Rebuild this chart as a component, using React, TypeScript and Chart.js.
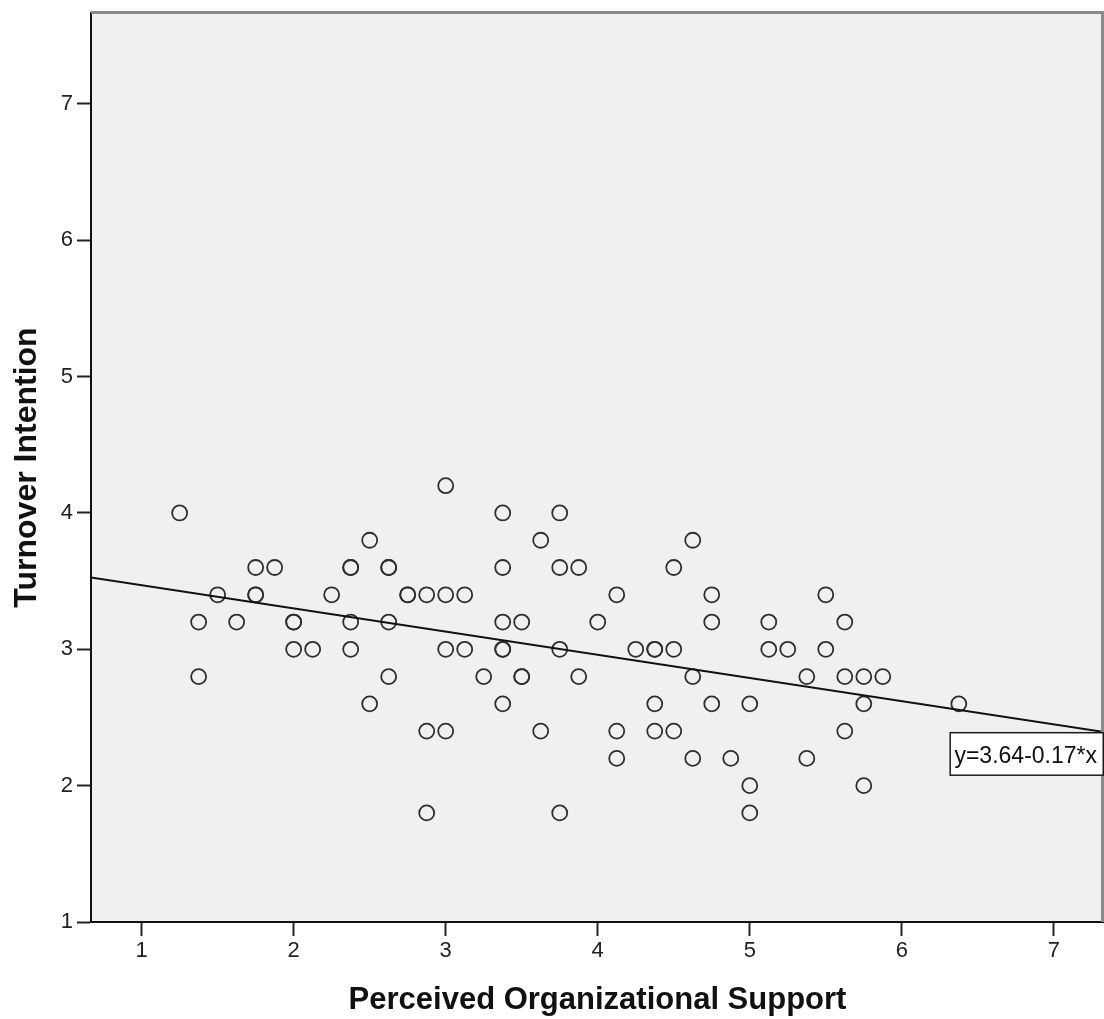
import React, { useEffect, useRef } from "react";
import { Chart, registerables } from "chart.js";

Chart.register(...registerables);

// Perceived Organizational Support (x) and Turnover Intention (y) per respondent
const posValues = [
  1.25, 1.375, 1.375, 1.5, 1.625, 1.75, 1.75, 1.75, 1.875, 2, 2, 2, 2.125, 2.25,
  2.375, 2.375, 2.375, 2.375, 2.5, 2.5, 2.625, 2.625, 2.625, 2.625, 2.75, 2.75,
  2.875, 2.875, 2.875, 3, 3, 3, 3, 3.125, 3.125, 3.25, 3.375, 3.375, 3.375, 3.375,
  3.375, 3.375, 3.5, 3.5, 3.5, 3.625, 3.625, 3.75, 3.75, 3.75, 3.75, 3.875, 3.875,
  4, 4.125, 4.125, 4.125, 4.25, 4.375, 4.375, 4.375, 4.375, 4.5, 4.5, 4.5, 4.625,
  4.625, 4.625, 4.75, 4.75, 4.75, 4.875, 5, 5, 5, 5.125, 5.125, 5.25, 5.375, 5.375,
  5.5, 5.5, 5.625, 5.625, 5.625, 5.75, 5.75, 5.75, 5.875, 6.375,
];
const tiValues = [
  4.0, 3.2, 2.8, 3.4, 3.2, 3.6, 3.4, 3.4, 3.6, 3.2, 3.2, 3.0, 3.0, 3.4,
  3.6, 3.6, 3.2, 3.0, 3.8, 2.6, 3.6, 3.6, 3.2, 2.8, 3.4, 3.4,
  3.4, 2.4, 1.8, 4.2, 3.4, 3.0, 2.4, 3.4, 3.0, 2.8, 4.0, 3.6, 3.2, 3.0,
  3.0, 2.6, 3.2, 2.8, 2.8, 3.8, 2.4, 4.0, 3.6, 3.0, 1.8, 3.6, 2.8,
  3.2, 3.4, 2.4, 2.2, 3.0, 3.0, 3.0, 2.6, 2.4, 3.6, 3.0, 2.4, 3.8,
  2.8, 2.2, 3.4, 3.2, 2.6, 2.2, 2.6, 2.0, 1.8, 3.2, 3.0, 3.0, 2.8, 2.2,
  3.4, 3.0, 3.2, 2.8, 2.4, 2.8, 2.6, 2.0, 2.8, 2.6,
];

// Fit line (from the chart's equation label)
const FIT_INTERCEPT = 3.64;
const FIT_SLOPE = -0.17;
const FIT_LABEL = "y=3.64-0.17*x";

const X_TICKS = [1, 2, 3, 4, 5, 6, 7];
const Y_TICKS = [1, 2, 3, 4, 5, 6, 7];
const X_MIN = 0.667;
const X_MAX = 7.33;
const Y_MIN = 1;
const Y_MAX = 7.667;

const X_TITLE = "Perceived Organizational Support";
const Y_TITLE = "Turnover Intention";

const FONT = "'Liberation Sans', Arial, Helvetica, sans-serif";

const zeroPad = (s: any) => {
  s.paddingLeft = 0;
  s.paddingRight = 0;
  s.paddingTop = 0;
  s.paddingBottom = 0;
};

const framePlugin = {
  id: "frame",
  beforeDraw(chart: any) {
    const { ctx, chartArea: a } = chart;
    ctx.save();
    ctx.fillStyle = "#F0F0F0";
    ctx.fillRect(a.left, a.top, a.right - a.left, a.bottom - a.top);
    ctx.restore();
  },
  afterDraw(chart: any) {
    const { ctx, chartArea: a, scales } = chart;
    ctx.save();
    // top & right frame
    ctx.strokeStyle = "#8a8a8a";
    ctx.lineWidth = 3;
    ctx.beginPath();
    ctx.moveTo(a.left, a.top - 0.5);
    ctx.lineTo(a.right - 1.5, a.top - 0.5);
    ctx.lineTo(a.right - 1.5, a.bottom);
    ctx.stroke();

    // equation label box anchored at right end of fit line
    const yEnd = scales.y.getPixelForValue(FIT_INTERCEPT + FIT_SLOPE * X_MAX);
    ctx.font = `23px ${FONT}`;
    const tw = ctx.measureText(FIT_LABEL).width;
    const boxW = tw + 12;
    const boxH = 44;
    const right = a.right;
    const left = right - boxW;
    const top = yEnd;
    ctx.fillStyle = "#FFFFFF";
    ctx.fillRect(left, top, boxW, boxH);
    ctx.strokeStyle = "#1a1a1a";
    ctx.lineWidth = 1.5;
    ctx.strokeRect(left + 0.75, top + 0.75, boxW - 1.5, boxH - 1.5);
    ctx.fillStyle = "#111";
    ctx.textAlign = "left";
    ctx.textBaseline = "alphabetic";
    ctx.fillText(FIT_LABEL, left + 5, top + 31);
    ctx.restore();
  },
};

export default function App() {
  const ref = useRef<HTMLCanvasElement | null>(null);

  useEffect(() => {
    if (!ref.current) return;
    const points = posValues.map((x, i) => ({ x, y: tiValues[i] }));
    const fitLine = [X_MIN, X_MAX].map((x) => ({ x, y: FIT_INTERCEPT + FIT_SLOPE * x }));

    const chart = new Chart(ref.current, {
      type: "scatter",
      data: {
        datasets: [
          {
            label: "Fit",
            data: fitLine,
            showLine: true,
            borderColor: "#111",
            borderWidth: 2,
            pointRadius: 0,
            order: 1,
          } as any,
          {
            label: "Observed",
            data: points,
            pointStyle: "circle",
            pointRadius: 7.5,
            borderWidth: 1.8,
            borderColor: "#2e2e2e",
            backgroundColor: "rgba(0,0,0,0)",
            order: 2,
          },
        ],
      },
      options: {
        animation: false,
        responsive: false,
        events: [],
        layout: { autoPadding: false, padding: { top: 13, right: 0, left: 0, bottom: 0 } },
        plugins: {
          legend: { display: false },
          tooltip: { enabled: false },
        },
        scales: {
          x: {
            type: "linear",
            min: X_MIN,
            max: X_MAX,
            afterBuildTicks: (s: any) => {
              s.ticks = X_TICKS.map((v) => ({ value: v }));
            },
            afterFit: (s: any) => {
              s.height = 97;
              zeroPad(s);
            },
            grid: {
              drawOnChartArea: false,
              drawTicks: true,
              tickLength: 14,
              tickColor: "#222",
              tickWidth: 2,
            },
            border: { display: true, color: "#111", width: 2 },
            ticks: {
              padding: 2,
              color: "#222",
              font: { family: FONT, size: 22 },
              autoSkip: false,
              maxRotation: 0,
              callback: (v: any) => String(v),
            },
            title: {
              display: true,
              text: X_TITLE,
              color: "#111",
              font: { family: FONT, size: 31, weight: "bold" },
              padding: { top: 0, bottom: 0 },
            },
          },
          y: {
            type: "linear",
            min: Y_MIN,
            max: Y_MAX,
            afterBuildTicks: (s: any) => {
              s.ticks = Y_TICKS.map((v) => ({ value: v }));
            },
            afterFit: (s: any) => {
              s.width = 91;
              zeroPad(s);
            },
            grid: {
              drawOnChartArea: false,
              drawTicks: true,
              tickLength: 14,
              tickColor: "#222",
              tickWidth: 2,
            },
            border: { display: true, color: "#111", width: 2 },
            ticks: {
              padding: 4,
              color: "#222",
              font: { family: FONT, size: 22 },
              autoSkip: false,
              callback: (v: any) => String(v),
            },
            title: {
              display: true,
              text: Y_TITLE,
              color: "#111",
              font: { family: FONT, size: 32, weight: "bold" },
              padding: { top: 8, bottom: 0 },
            },
          },
        },
      },
      plugins: [framePlugin],
    });
    return () => chart.destroy();
  }, []);

  return (
    <div style={{ position: "absolute", left: 0, top: 0, width: 1104, height: 1019, background: "#fff" }}>
      <canvas ref={ref} width={1104} height={1019} style={{ display: "block" }} />
    </div>
  );
}
